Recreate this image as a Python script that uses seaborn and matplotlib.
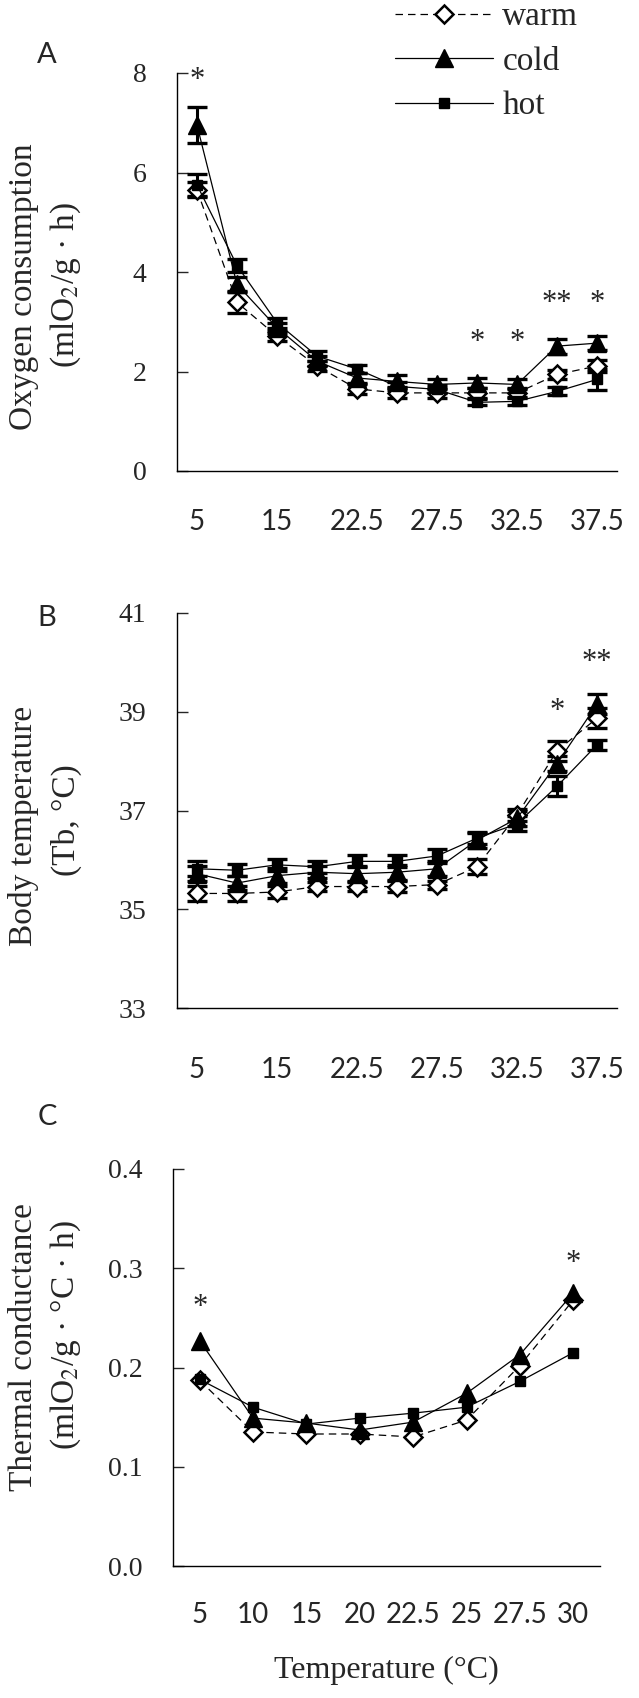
import numpy as np
import pandas as pd
import seaborn as sns
import matplotlib.pyplot as plt

sns.set_style("white")
plt.rcParams["font.family"] = ["Liberation Serif", "DejaVu Serif"]
plt.rcParams["mathtext.fontset"] = "stix"

# panel A / B temperatures (categorical)
temps_ab = ["5", "10", "15", "20", "22.5", "25", "27.5", "30", "32.5", "35", "37.5"]
temps_c = ["5", "10", "15", "20", "22.5", "25", "27.5", "30"]

# A: oxygen consumption
o2_warm = [5.65, 3.39, 2.71, 2.11, 1.65, 1.57, 1.57, 1.57, 1.57, 1.94, 2.11]
o2_cold = [6.95, 3.75, 2.88, 2.21, 1.87, 1.80, 1.74, 1.77, 1.74, 2.51, 2.57]
o2_hot = [5.75, 4.13, 2.98, 2.31, 2.05, 1.70, 1.64, 1.38, 1.40, 1.60, 1.84]
o2_warm_se = [0.15, 0.22, 0.10, 0.10, 0.10, 0.10, 0.10, 0.10, 0.10, 0.10, 0.12]
o2_cold_se = [0.36, 0.15, 0.10, 0.10, 0.10, 0.12, 0.10, 0.10, 0.10, 0.15, 0.14]
o2_hot_se = [0.22, 0.13, 0.10, 0.10, 0.08, 0.08, 0.08, 0.06, 0.08, 0.08, 0.22]

# B: body temperature
tb_warm = [35.32, 35.32, 35.35, 35.46, 35.46, 35.46, 35.50, 35.86, 36.91, 38.21, 38.87]
tb_cold = [35.72, 35.53, 35.68, 35.75, 35.72, 35.75, 35.82, 36.40, 36.84, 37.95, 39.15]
tb_hot = [35.82, 35.79, 35.90, 35.86, 35.97, 35.97, 36.08, 36.44, 36.73, 37.49, 38.33]
tb_warm_se = [0.15, 0.15, 0.12, 0.10, 0.10, 0.12, 0.08, 0.15, 0.12, 0.20, 0.20]
tb_cold_se = [0.15, 0.15, 0.15, 0.12, 0.15, 0.15, 0.15, 0.15, 0.15, 0.15, 0.20]
tb_hot_se = [0.15, 0.12, 0.12, 0.12, 0.12, 0.12, 0.15, 0.12, 0.15, 0.20, 0.10]

# C: thermal conductance
tc_warm = [0.187, 0.135, 0.133, 0.133, 0.130, 0.147, 0.202, 0.268]
tc_cold = [0.227, 0.149, 0.144, 0.137, 0.145, 0.174, 0.213, 0.275]
tc_hot = [0.188, 0.160, 0.143, 0.149, 0.154, 0.160, 0.186, 0.215]

# significance marks: (category index, text, y value)
stars_a = [(0, "*", 7.85), (7, "*", 2.58), (8, "*", 2.58), (9, "**", 3.36), (10, "*", 3.36)]
stars_b = [(9, "*", 39.0), (10, "**", 40.0)]
stars_c = [(0, "*", 0.26), (7, "*", 0.305)]

styles = {
    "warm": dict(ls=(0, (6, 4)), marker="D", mfc="white", ms=9.5, mew=1.8),
    "cold": dict(ls="-", marker="^", mfc="black", ms=13, mew=1),
    "hot": dict(ls="-", marker="s", mfc="black", ms=7.5, mew=1),
}

fig = plt.figure(figsize=(6.39, 16.98), dpi=100)
W, H = 639, 1698
sans = ["Lato", "DejaVu Sans"]
narrow = ["Liberation Sans Narrow", "Lato", "DejaVu Sans"]


def make_ax(left, right, top, bottom):
    return fig.add_axes([left / W, 1 - bottom / H, (right - left) / W, (bottom - top) / H])


def draw(ax, labels, series, errs, ylim, yticks, fmt, stars, show_every, xpad):
    n = len(labels)
    x = np.arange(n)
    for name, vals in series.items():
        df = pd.DataFrame({"x": x, "y": vals})
        st = styles[name]
        sns.lineplot(data=df, x="x", y="y", ax=ax, color="black", lw=0.9,
                     linestyle=st["ls"], marker=st["marker"], markersize=st["ms"],
                     markerfacecolor=st["mfc"], markeredgecolor="black",
                     markeredgewidth=st["mew"], label=name, zorder=3)
        if errs is not None:
            ax.errorbar(x, vals, yerr=errs[name], fmt="none", ecolor="black",
                        elinewidth=2.2, capsize=7.5, capthick=2.4, zorder=2)
    ax.set_xlim(-0.5, n - 0.5)
    ax.set_ylim(*ylim)
    ax.set_yticks(yticks)
    ax.set_yticklabels([fmt.format(t) for t in yticks], fontsize=20)
    ax.set_xticks(x)
    ax.set_xticklabels([l if i % show_every == 0 else "" for i, l in enumerate(labels)],
                       family=narrow, fontsize=20)
    ax.set_xticks(np.arange(-0.5, n, 1.0), minor=True)
    ax.tick_params(axis="x", which="major", length=0, pad=xpad)
    ax.tick_params(axis="x", which="minor", direction="in", length=7, width=1)
    ax.tick_params(axis="y", direction="in", length=8, width=1, pad=22, left=True)
    for s in ["top", "right"]:
        ax.spines[s].set_visible(False)
    for s in ["left", "bottom"]:
        ax.spines[s].set_color("black")
        ax.spines[s].set_linewidth(1)
    ax.set_xlabel("")
    ax.set_ylabel("")
    ax.get_legend().remove()
    for i, t, yv in stars:
        ax.text(i, yv, t, ha="center", va="center", fontsize=22)


def side_text(letter, ly, line1, line2, y1, y2):
    fig.text(47 / W, 1 - ly / H, letter, family=sans, fontsize=21, ha="center", va="center")
    fig.text(24 / W, 1 - y1 / H, line1, rotation=90, fontsize=24, ha="center", va="center")
    fig.text(66 / W, 1 - y2 / H, line2, rotation=90, fontsize=24, ha="center", va="center")


ax_a = make_ax(177, 617, 73, 471)
draw(ax_a, temps_ab, {"warm": o2_warm, "cold": o2_cold, "hot": o2_hot},
     {"warm": o2_warm_se, "cold": o2_cold_se, "hot": o2_hot_se},
     (0, 8), [0, 2, 4, 6, 8], "{:g}", stars_a, 2, 27)
side_text("A", 55, "Oxygen consumption", "(mlO$_2$/g · h)", 287, 285)

ax_b = make_ax(177, 617, 613, 1008)
draw(ax_b, temps_ab, {"warm": tb_warm, "cold": tb_cold, "hot": tb_hot},
     {"warm": tb_warm_se, "cold": tb_cold_se, "hot": tb_hot_se},
     (33, 41), [33, 35, 37, 39, 41], "{:g}", stars_b, 2, 35)
side_text("B", 618, "Body temperature", "(Tb, °C)", 826, 820)

ax_c = make_ax(173, 600, 1169, 1566)
draw(ax_c, temps_c, {"warm": tc_warm, "cold": tc_cold, "hot": tc_hot}, None,
     (0, 0.4), [0.0, 0.1, 0.2, 0.3, 0.4], "{:.1f}", stars_c, 1, 26)
side_text("C", 1117, "Thermal conductance", "(mlO$_2$/g · °C · h)", 1347, 1335)
ax_c.set_xlabel("Temperature (°C)", fontsize=23, labelpad=20)

handles, labs = ax_a.get_legend_handles_labels()
fig.legend(handles[:3], labs[:3], loc="upper left", bbox_to_anchor=(395 / W, 0.999),
           frameon=False, fontsize=24, handlelength=2.95, handletextpad=0.27,
           labelspacing=0.42, borderpad=0, borderaxespad=0)

fig.savefig("out.png", dpi=100)
